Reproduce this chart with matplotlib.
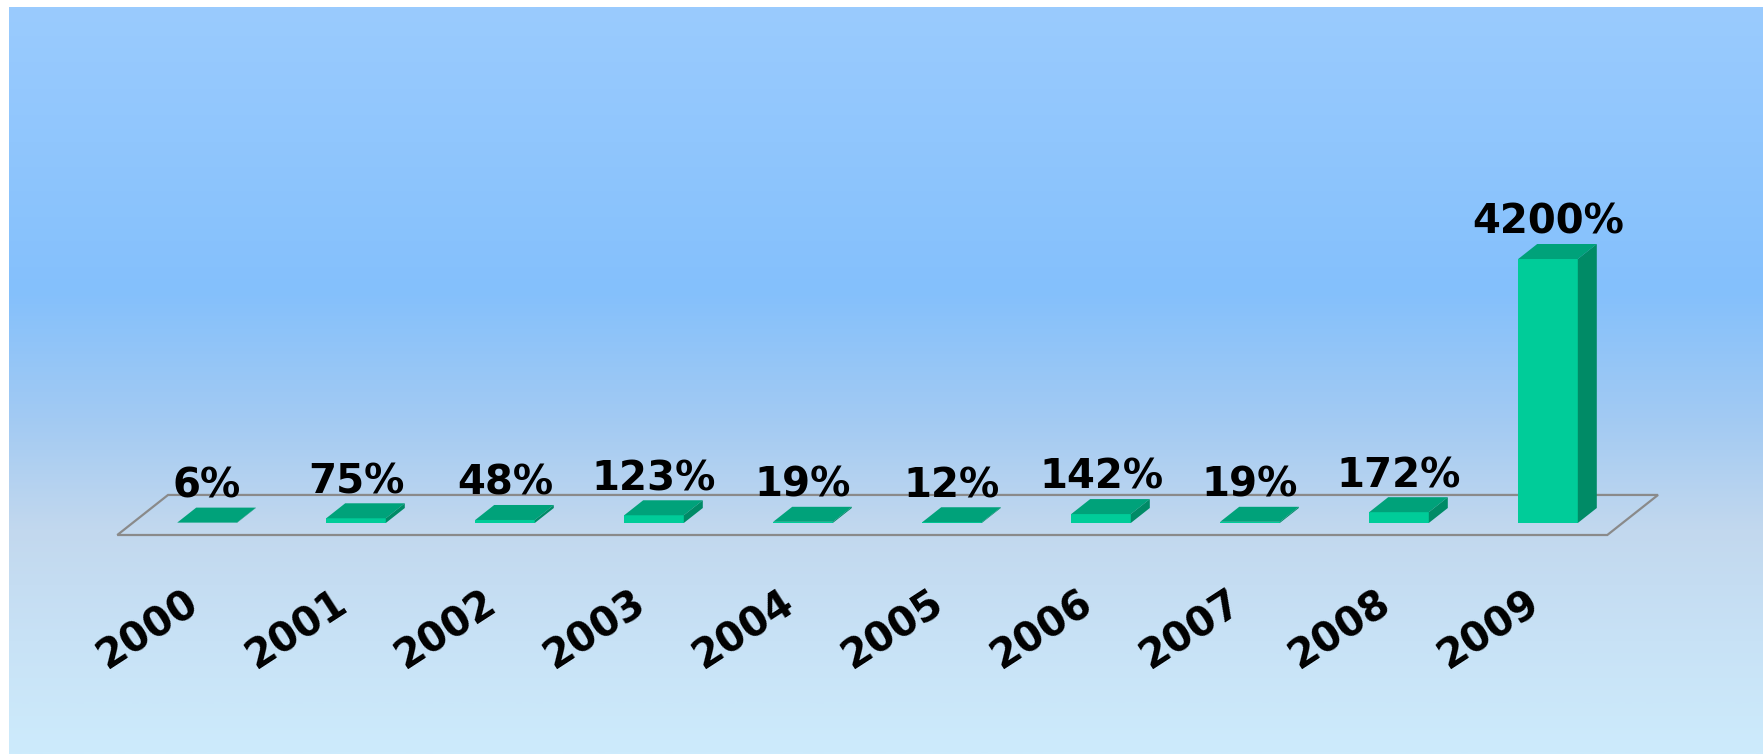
import numpy as np
import matplotlib
matplotlib.use("Agg")
import matplotlib.pyplot as plt
from matplotlib.colors import LinearSegmentedColormap
from matplotlib.patches import Polygon

years = ["2000", "2001", "2002", "2003", "2004", "2005", "2006", "2007", "2008", "2009"]
growth = [6, 75, 48, 123, 19, 12, 142, 19, 172, 4200]
labels = ["6%", "75%", "48%", "123%", "19%", "12%", "142%", "19%", "172%", "4200%"]

W, H, DPI = 1763, 754, 100
fig = plt.figure(figsize=(W / DPI, H / DPI), dpi=DPI)
fig.patch.set_facecolor("white")

# gradient background panel
bg = fig.add_axes([9 / W, 0, (W - 9) / W, (H - 7) / H])
bg.axis("off")
cmap = LinearSegmentedColormap.from_list("bg", [
    (0.0, "#9ACBFE"), (0.18, "#90C6FD"), (0.38, "#84C0FC"), (0.55, "#A2CAF3"),
    (0.70, "#C2D8EE"), (0.85, "#C8E2F6"), (1.0, "#CDEBFC")])
grad = np.linspace(0, 1, 512).reshape(-1, 1)
bg.imshow(grad, cmap=cmap, aspect="auto", extent=[0, 1, 0, 1], origin="upper",
          interpolation="bilinear")

# main axes: bar index on x, percentage on y
ax = fig.add_axes([0, 0, 1, 1])
ax.patch.set_alpha(0)
ax.axis("off")
x0, step = 207, 149.0          # pixel position of first bar, bar spacing
base, scale = 523, 4200 / 264  # pixel row of bar base, % per pixel
ax.set_xlim(-x0 / step, (W - x0) / step)
ax.set_ylim(-(H - base) * scale, base * scale)

x = np.arange(len(years))
bw = 0.40
ddx, ddy = 19 / step, 15 * scale  # oblique depth offset of the bars

# floor
fl, fr = -0.5, len(years) - 0.5
dfront, dback = -0.8, 1.87
floor = Polygon([(fl + dfront * ddx, dfront * ddy), (fr + dfront * ddx, dfront * ddy),
                 (fr + dback * ddx, dback * ddy), (fl + dback * ddx, dback * ddy)],
                closed=True, facecolor="none", edgecolor="#8A8A8A", lw=1.6, zorder=1)
ax.add_patch(floor)

front_c, top_c, side_c = "#00CC99", "#00A27A", "#008B66"
ax.bar(x, growth, width=bw, color=front_c, zorder=3)
for xi, v in zip(x, growth):
    l, r = xi - bw / 2, xi + bw / 2
    ax.add_patch(Polygon([(l, v), (r, v), (r + ddx, v + ddy), (l + ddx, v + ddy)],
                         facecolor=top_c, edgecolor="none", zorder=3))
    ax.add_patch(Polygon([(r, 0), (r + ddx, ddy), (r + ddx, v + ddy), (r, v)],
                         facecolor=side_c, edgecolor="none", zorder=3))

for xi, v, lab in zip(x, growth, labels):
    ax.annotate(lab, xy=(xi, v), xytext=(0, 26), textcoords="offset points",
                ha="center", va="center", fontsize=29, fontweight="bold",
                family="DejaVu Sans", color="black", zorder=5)

for xi, yr in zip(x, years):
    ax.annotate(yr, xy=(xi, 0), xytext=(-42, -77), textcoords="offset points",
                ha="center", va="center", rotation=33, fontsize=29,
                fontweight="bold", family="DejaVu Sans", color="black", zorder=5)

fig.savefig("out.png", dpi=DPI, facecolor=fig.get_facecolor())
